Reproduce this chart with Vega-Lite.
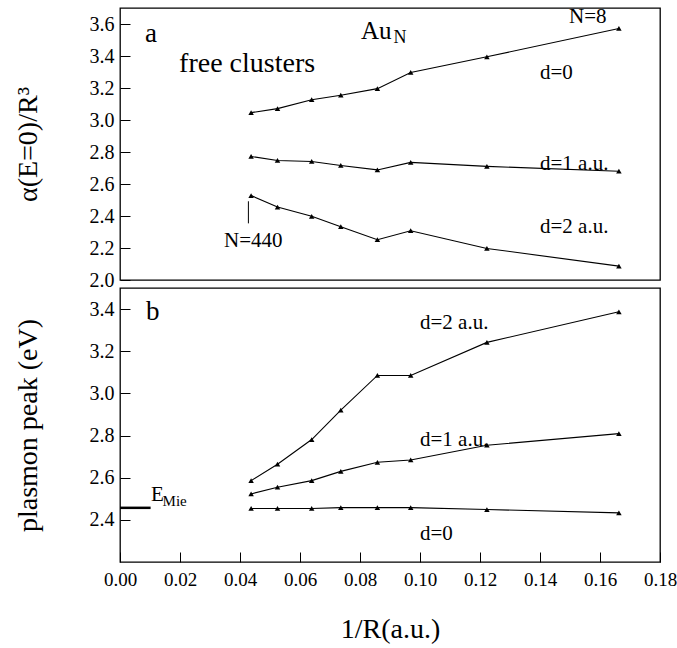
{
  "$schema": "https://vega.github.io/schema/vega-lite/v6.json",
  "padding": {"left": 13, "top": 4, "right": 0, "bottom": 5},
  "autosize": {"type": "pad"},
  "background": "white",
  "bounds": "flush",
  "spacing": 8,
  "config": {
    "font": "Liberation Serif",
    "view": {"stroke": "black", "strokeWidth": 1.3},
    "text": {"font": "Liberation Serif"},
    "axis": {
      "grid": false,
      "domain": false,
      "tickColor": "black",
      "tickSize": -10,
      "tickWidth": 1,
      "tickCount": 30,
      "labelOverlap": false,
      "labelFlush": false,
      "labelColor": "black",
      "labelFont": "Liberation Serif",
      "labelFontSize": 20,
      "titleFont": "Liberation Serif",
      "titleFontSize": 28,
      "titleFontWeight": "normal",
      "titleColor": "black"
    }
  },
  "datasets": {
    "top": [
      {"series": "d=0", "x": 0.0437, "y": 3.046}, {"series": "d=0", "x": 0.0525, "y": 3.071}, {"series": "d=0", "x": 0.0639, "y": 3.127}, {"series": "d=0", "x": 0.0736, "y": 3.155}, {"series": "d=0", "x": 0.0858, "y": 3.196}, {"series": "d=0", "x": 0.0969, "y": 3.297}, {"series": "d=0", "x": 0.1223, "y": 3.395}, {"series": "d=0", "x": 0.1663, "y": 3.572},
      {"series": "d=1", "x": 0.0437, "y": 2.772}, {"series": "d=1", "x": 0.0525, "y": 2.747}, {"series": "d=1", "x": 0.0639, "y": 2.741}, {"series": "d=1", "x": 0.0736, "y": 2.716}, {"series": "d=1", "x": 0.0858, "y": 2.688}, {"series": "d=1", "x": 0.0969, "y": 2.735}, {"series": "d=1", "x": 0.1223, "y": 2.710}, {"series": "d=1", "x": 0.1663, "y": 2.680},
      {"series": "d=2", "x": 0.0437, "y": 2.528}, {"series": "d=2", "x": 0.0525, "y": 2.456}, {"series": "d=2", "x": 0.0639, "y": 2.398}, {"series": "d=2", "x": 0.0736, "y": 2.333}, {"series": "d=2", "x": 0.0858, "y": 2.252}, {"series": "d=2", "x": 0.0969, "y": 2.308}, {"series": "d=2", "x": 0.1223, "y": 2.197}, {"series": "d=2", "x": 0.1663, "y": 2.087}
    ],
    "bottom": [
      {"series": "d=2", "x": 0.0437, "y": 2.586}, {"series": "d=2", "x": 0.0525, "y": 2.664}, {"series": "d=2", "x": 0.0639, "y": 2.781}, {"series": "d=2", "x": 0.0736, "y": 2.921}, {"series": "d=2", "x": 0.0858, "y": 3.085}, {"series": "d=2", "x": 0.0969, "y": 3.085}, {"series": "d=2", "x": 0.1223, "y": 3.242}, {"series": "d=2", "x": 0.1663, "y": 3.387},
      {"series": "d=1", "x": 0.0437, "y": 2.523}, {"series": "d=1", "x": 0.0525, "y": 2.555}, {"series": "d=1", "x": 0.0639, "y": 2.586}, {"series": "d=1", "x": 0.0736, "y": 2.630}, {"series": "d=1", "x": 0.0858, "y": 2.673}, {"series": "d=1", "x": 0.0969, "y": 2.684}, {"series": "d=1", "x": 0.1223, "y": 2.754}, {"series": "d=1", "x": 0.1663, "y": 2.809},
      {"series": "d=0", "x": 0.0437, "y": 2.454}, {"series": "d=0", "x": 0.0525, "y": 2.454}, {"series": "d=0", "x": 0.0639, "y": 2.454}, {"series": "d=0", "x": 0.0736, "y": 2.458}, {"series": "d=0", "x": 0.0858, "y": 2.458}, {"series": "d=0", "x": 0.0969, "y": 2.458}, {"series": "d=0", "x": 0.1223, "y": 2.449}, {"series": "d=0", "x": 0.1663, "y": 2.433}
    ],
    "topPanelLabels": [{"label": "a", "x": 0.0083, "y": 3.539}],
    "topBig": [{"label": "free clusters", "x": 0.0197, "y": 3.351}],
    "topAu": [{"label": "Au", "x": 0.0803, "y": 3.558}],
    "topSub": [{"label": "N", "x": 0.0912, "y": 3.511}],
    "topSeriesLabels": [
      {"label": "N=8", "x": 0.1497, "y": 3.646},
      {"label": "d=0", "x": 0.14, "y": 3.292},
      {"label": "d=1 a.u.", "x": 0.14, "y": 2.727},
      {"label": "d=2 a.u.", "x": 0.14, "y": 2.329},
      {"label": "N=440", "x": 0.0347, "y": 2.241}
    ],
    "marker440": [{"x": 0.0428, "y": 2.354, "y2": 2.492}],
    "bottomPanelLabels": [{"label": "b", "x": 0.0087, "y": 3.387}],
    "bottomSeriesLabels": [
      {"label": "d=2 a.u.", "x": 0.1, "y": 3.335},
      {"label": "d=1 a.u.", "x": 0.1, "y": 2.781},
      {"label": "d=0", "x": 0.1, "y": 2.335},
      {"label": "E", "x": 0.0103, "y": 2.52}
    ],
    "mieSub": [{"label": "Mie", "x": 0.0142, "y": 2.49}],
    "mieLine": [{"x": 0, "x2": 0.0102, "y": 2.457}]
  },
  "vconcat": [
    {
      "width": 540,
      "height": 272,
      "layer": [
        {
          "data": {"name": "top"},
          "mark": {"type": "line", "color": "black", "strokeWidth": 1.1, "point": {"shape": "triangle-up", "size": 30, "filled": true, "color": "black", "opacity": 1}},
          "encoding": {
            "x": {"field": "x", "type": "quantitative", "scale": {"domain": [0, 0.18], "nice": false}, "axis": null},
            "y": {"field": "y", "type": "quantitative", "scale": {"domain": [2.0, 3.7], "nice": false, "zero": false}, "axis": {"values": [2.0, 2.2, 2.4, 2.6, 2.8, 3.0, 3.2, 3.4, 3.6], "tickCount": 30, "format": ".1f", "labelPadding": 16, "title": "α(E=0)/R³", "titlePadding": 47}},
            "detail": {"field": "series"}
          }
        },
        {
          "data": {"name": "marker440"},
          "mark": {"type": "rule", "color": "black", "strokeWidth": 1},
          "encoding": {"x": {"field": "x", "type": "quantitative"}, "y": {"field": "y", "type": "quantitative"}, "y2": {"field": "y2"}}
        },
        {
          "data": {"name": "topPanelLabels"},
          "mark": {"type": "text", "align": "left", "baseline": "middle", "fontSize": 27, "color": "black"},
          "encoding": {"x": {"field": "x", "type": "quantitative"}, "y": {"field": "y", "type": "quantitative"}, "text": {"field": "label"}}
        },
        {
          "data": {"name": "topBig"},
          "mark": {"type": "text", "align": "left", "baseline": "middle", "fontSize": 28, "color": "black"},
          "encoding": {"x": {"field": "x", "type": "quantitative"}, "y": {"field": "y", "type": "quantitative"}, "text": {"field": "label"}}
        },
        {
          "data": {"name": "topAu"},
          "mark": {"type": "text", "align": "left", "baseline": "middle", "fontSize": 25, "color": "black"},
          "encoding": {"x": {"field": "x", "type": "quantitative"}, "y": {"field": "y", "type": "quantitative"}, "text": {"field": "label"}}
        },
        {
          "data": {"name": "topSub"},
          "mark": {"type": "text", "align": "left", "baseline": "middle", "fontSize": 18, "color": "black"},
          "encoding": {"x": {"field": "x", "type": "quantitative"}, "y": {"field": "y", "type": "quantitative"}, "text": {"field": "label"}}
        },
        {
          "data": {"name": "topSeriesLabels"},
          "mark": {"type": "text", "align": "left", "baseline": "middle", "fontSize": 21, "color": "black"},
          "encoding": {"x": {"field": "x", "type": "quantitative"}, "y": {"field": "y", "type": "quantitative"}, "text": {"field": "label"}}
        }
      ]
    },
    {
      "width": 540,
      "height": 274,
      "layer": [
        {
          "data": {"name": "bottom"},
          "mark": {"type": "line", "color": "black", "strokeWidth": 1.1, "point": {"shape": "triangle-up", "size": 30, "filled": true, "color": "black", "opacity": 1}},
          "encoding": {
            "x": {"field": "x", "type": "quantitative", "scale": {"domain": [0, 0.18], "nice": false}, "axis": {"values": [0, 0.02, 0.04, 0.06, 0.08, 0.1, 0.12, 0.14, 0.16, 0.18], "tickCount": 30, "format": ".2f", "labelFontSize": 19, "labelPadding": 18, "title": "1/R(a.u.)", "titlePadding": 26}},
            "y": {"field": "y", "type": "quantitative", "scale": {"domain": [2.2, 3.5], "nice": false, "zero": false}, "axis": {"values": [2.4, 2.6, 2.8, 3.0, 3.2, 3.4], "tickCount": 30, "format": ".1f", "labelPadding": 16, "title": "plasmon peak (eV)", "titlePadding": 47}},
            "detail": {"field": "series"}
          }
        },
        {
          "data": {"name": "mieLine"},
          "mark": {"type": "rule", "color": "black", "strokeWidth": 2.5},
          "encoding": {"x": {"field": "x", "type": "quantitative"}, "x2": {"field": "x2"}, "y": {"field": "y", "type": "quantitative"}}
        },
        {
          "data": {"name": "bottomPanelLabels"},
          "mark": {"type": "text", "align": "left", "baseline": "middle", "fontSize": 27, "color": "black"},
          "encoding": {"x": {"field": "x", "type": "quantitative"}, "y": {"field": "y", "type": "quantitative"}, "text": {"field": "label"}}
        },
        {
          "data": {"name": "bottomSeriesLabels"},
          "mark": {"type": "text", "align": "left", "baseline": "middle", "fontSize": 21, "color": "black"},
          "encoding": {"x": {"field": "x", "type": "quantitative"}, "y": {"field": "y", "type": "quantitative"}, "text": {"field": "label"}}
        },
        {
          "data": {"name": "mieSub"},
          "mark": {"type": "text", "align": "left", "baseline": "middle", "fontSize": 15, "color": "black"},
          "encoding": {"x": {"field": "x", "type": "quantitative"}, "y": {"field": "y", "type": "quantitative"}, "text": {"field": "label"}}
        }
      ]
    }
  ]
}
